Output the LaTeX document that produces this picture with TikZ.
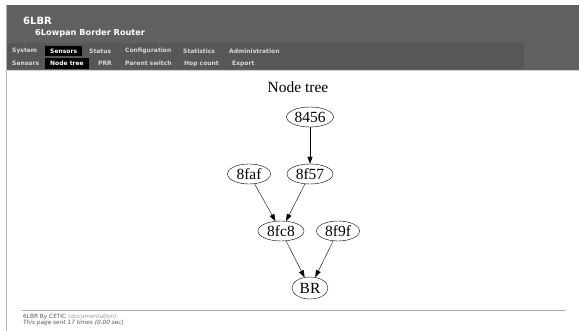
\documentclass[tikz,border=0pt]{standalone}
\usepackage{fontspec}
\setmainfont{Liberation Serif}
\newfontfamily\uifont{DejaVu Sans}
\usetikzlibrary{arrows.meta,shapes.geometric,positioning}
\definecolor{hdrgray}{HTML}{606060}
\definecolor{menugray}{HTML}{575757}
\definecolor{menutext}{HTML}{D8D8D8}
\definecolor{foottext}{HTML}{555555}
\definecolor{linkgray}{HTML}{9A9A9A}

\begin{document}
\begin{tikzpicture}[x=1pt,y=-1pt]
\tikzset{
  treenode/.style={ellipse,draw,thin,minimum width=44pt,minimum height=20pt,inner sep=0.5pt,font=\fontsize{15.5}{16}\selectfont},
  treeedge/.style={-{Triangle[length=7pt,width=5pt]},thin},
  menuitem/.style={anchor=west,inner sep=0pt,text=menutext,font=\uifont\bfseries\fontsize{6}{7}\selectfont},
  menusel/.style={menuitem,text=white,fill=black,inner xsep=5pt,inner ysep=3pt},
  footline/.style={anchor=west,inner sep=0pt,font=\uifont\fontsize{5.8}{6}\selectfont}
}
\useasboundingbox[fill=white] (0,0) rectangle (579,331);
% page header
\fill[hdrgray] (6,5) rectangle (579,70);
\fill[menugray] (6,43) rectangle (524,69);
\draw[gray!60,line width=0.8pt] (6,5) -- (6,331);
\draw[gray!35,line width=0.6pt] (6,70.5) -- (579,70.5);
\node[anchor=west,inner sep=0pt,text=white,font=\uifont\bfseries\fontsize{10}{11}\selectfont] (t_name) at (23,21) {6LBR};
\node[anchor=west,inner sep=0pt,text=white,font=\uifont\bfseries\fontsize{8.2}{9}\selectfont] (t_sub) at (35,33.5) {6Lowpan Border Router};
% menu rows
\node[menuitem] (m_system) at (12,51) {System};
\node[menusel] (m_sensors) at (45,51) {Sensors};
\node[menuitem] (m_status) at (89,51) {Status};
\node[menuitem] (m_config) at (125,51) {Configuration};
\node[menuitem] (m_stats) at (183,51) {Statistics};
\node[menuitem] (m_admin) at (229,51) {Administration};
\node[menuitem] (s_sensors) at (12,63.5) {Sensors};
\node[menusel] (s_tree) at (45,63.5) {Node tree};
\node[menuitem] (s_prr) at (98,63.5) {PRR};
\node[menuitem] (s_parent) at (125,63.5) {Parent switch};
\node[menuitem] (s_hop) at (184,63.5) {Hop count};
\node[menuitem] (s_export) at (232,63.5) {Export};
% node tree
\node[font=\fontsize{15.5}{16}\selectfont] (n_title) at (298,87) {Node tree};
\node[treenode,minimum width=47pt] (n_8456) at (310,117) {8456};
\node[treenode,minimum width=43pt] (n_8faf) at (249,174) {8faf};
\node[treenode,minimum width=46pt] (n_8f57) at (310,174) {8f57};
\node[treenode,minimum width=46pt] (n_8fc8) at (281,231) {8fc8};
\node[treenode,minimum width=43pt] (n_8f9f) at (338,231) {8f9f};
\node[treenode,minimum width=36pt,minimum height=22pt] (n_BR) at (310,288) {BR};
\draw[treeedge] (n_8456) -- (n_8f57);
\draw[treeedge] (n_8faf) -- (n_8fc8);
\draw[treeedge] (n_8f57) -- (n_8fc8);
\draw[treeedge] (n_8fc8) -- (n_BR);
\draw[treeedge] (n_8f9f) -- (n_BR);
% footer
\draw[gray!70,line width=0.8pt] (22,310.5) -- (565,310.5);
\node[footline,text=foottext] (f_by) at (23,316.5) {6LBR By CETIC \textcolor{linkgray}{\itshape(documentation)}};
\node[footline,text=foottext] (f_sent) at (23,322.5) {\itshape This page sent 17 times (0.00 sec)};
\end{tikzpicture}
\end{document}
